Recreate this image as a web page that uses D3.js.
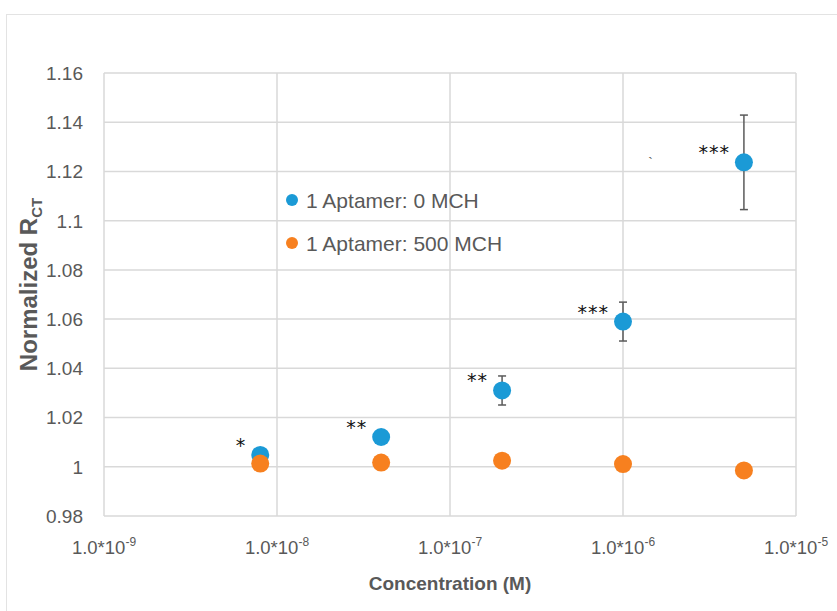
<!DOCTYPE html>
<html>
<head>
<meta charset="utf-8">
<script src="https://cdn.jsdelivr.net/npm/d3@7"></script>
<style>
  body { margin: 0; background: #fff; }
  text { font-family: "Liberation Sans", Arial, sans-serif; }
</style>
</head>
<body>
<script>
// data
const concentrations = [8e-9, 4e-8, 2e-7, 1e-6, 5e-6]
const rctNoMch = [1.0048, 1.0121, 1.0310, 1.0590, 1.1237]
const errNoMch = [0, 0.0022, 0.0059, 0.0079, 0.0192]
const rct500Mch = [1.0013, 1.0017, 1.0025, 1.0011, 0.9985]
const stars = ["*", "**", "**", "***", "***"]
const xTicks = [1e-9, 1e-8, 1e-7, 1e-6, 1e-5]
const yTicks = [0.98, 1, 1.02, 1.04, 1.06, 1.08, 1.1, 1.12, 1.14, 1.16]
const seriesNames = ["1 Aptamer: 0 MCH", "1 Aptamer: 500 MCH"]
const seriesColors = ["#1b9ad6", "#f7801f"]

const width = 837
const height = 611
const margin = { top: 73, right: 41, bottom: 95, left: 104 }

const svg = d3.select("body").append("svg")
    .attr("width", width)
    .attr("height", height)

// chart frame
svg.append("rect")
    .attr("x", 6.5).attr("y", 14.5)
    .attr("width", width).attr("height", height)
    .attr("fill", "none")
    .attr("stroke", "#e3e3e3")

const x = d3.scaleLog()
    .domain([1e-9, 1e-5])
    .range([margin.left, width - margin.right])

const y = d3.scaleLinear()
    .domain([0.98, 1.16])
    .range([height - margin.bottom, margin.top])

// grid
svg.append("g")
    .selectAll("line")
    .data(yTicks)
    .enter().append("line")
    .attr("x1", x(1e-9)).attr("x2", x(1e-5))
    .attr("y1", d => y(d)).attr("y2", d => y(d))
    .style("stroke", "#d9d9d9")
    .style("stroke-width", 1.5)

svg.append("g")
    .selectAll("line")
    .data(xTicks)
    .enter().append("line")
    .attr("x1", d => x(d)).attr("x2", d => x(d))
    .attr("y1", y(0.98)).attr("y2", y(1.16))
    .style("stroke", "#d9d9d9")
    .style("stroke-width", 1.5)

// y tick labels
svg.append("g")
    .selectAll("text")
    .data(yTicks)
    .enter().append("text")
    .attr("x", margin.left - 21)
    .attr("y", d => y(d))
    .attr("dy", "0.36em")
    .attr("text-anchor", "end")
    .style("font-size", "19px")
    .style("fill", "#595959")
    .text(d => d3.format("")(d))

// x tick labels: 1.0*10^n
const xl = svg.append("g")
    .selectAll("text")
    .data(xTicks)
    .enter().append("text")
    .attr("x", d => x(d))
    .attr("y", height - margin.bottom + 38)
    .attr("text-anchor", "middle")
    .style("font-size", "18.5px")
    .style("fill", "#595959")
xl.append("tspan").text("1.0*10")
xl.append("tspan")
    .attr("dy", -8)
    .style("font-size", "12px")
    .text(d => Math.round(Math.log10(d)))

// axis titles
svg.append("text")
    .attr("x", (x(1e-9) + x(1e-5)) / 2)
    .attr("y", 590)
    .attr("text-anchor", "middle")
    .style("font-size", "19px")
    .style("font-weight", "bold")
    .style("fill", "#595959")
    .text("Concentration (M)")

const yt = svg.append("text")
    .attr("transform", "translate(37," + ((y(0.98) + y(1.16)) / 2 - 10) + ") rotate(-90)")
    .attr("text-anchor", "middle")
    .style("font-size", "24px")
    .style("font-weight", "bold")
    .style("fill", "#595959")
yt.append("tspan").text("Normalized R")
yt.append("tspan").attr("dy", 5).style("font-size", "15px").text("CT")

// error bars
const eb = svg.append("g")
    .selectAll("g")
    .data(concentrations.map((c, i) => ({ c, v: rctNoMch[i], e: errNoMch[i] })).filter(d => d.e > 0))
    .enter().append("g")
    .style("stroke", "#5a5a5a")
    .style("stroke-width", 1.5)
eb.append("line")
    .attr("x1", d => x(d.c)).attr("x2", d => x(d.c))
    .attr("y1", d => y(d.v - d.e)).attr("y2", d => y(d.v + d.e))
eb.append("line")
    .attr("x1", d => x(d.c) - 4).attr("x2", d => x(d.c) + 4)
    .attr("y1", d => y(d.v + d.e)).attr("y2", d => y(d.v + d.e))
eb.append("line")
    .attr("x1", d => x(d.c) - 4).attr("x2", d => x(d.c) + 4)
    .attr("y1", d => y(d.v - d.e)).attr("y2", d => y(d.v - d.e))

// points: blue first, orange on top
svg.append("g")
    .selectAll("circle")
    .data(concentrations.map((c, i) => ({ c, v: rctNoMch[i] })))
    .enter().append("circle")
    .attr("cx", d => x(d.c))
    .attr("cy", d => y(d.v))
    .attr("r", 9)
    .style("fill", seriesColors[0])

svg.append("g")
    .selectAll("circle")
    .data(concentrations.map((c, i) => ({ c, v: rct500Mch[i] })))
    .enter().append("circle")
    .attr("cx", d => x(d.c))
    .attr("cy", d => y(d.v))
    .attr("r", 9)
    .style("fill", seriesColors[1])

// significance stars
svg.append("g")
    .selectAll("text")
    .data(concentrations.map((c, i) => ({ c, v: rctNoMch[i], s: stars[i] })))
    .enter().append("text")
    .attr("x", d => x(d.c) - 14)
    .attr("y", d => y(d.v) - 3)
    .attr("text-anchor", "end")
    .style("font-family", "DejaVu Sans")
    .style("font-size", "19px")
    .style("letter-spacing", "1px")
    .style("fill", "#111")
    .text(d => d.s)

// stray tick mark in the original
svg.append("text")
    .attr("x", x(1.4e-6))
    .attr("y", y(1.1215))
    .style("font-size", "14px")
    .style("fill", "#555")
    .text("`")

// legend
const legend = svg.append("g")
    .selectAll("g")
    .data(seriesNames)
    .enter().append("g")
    .attr("transform", (d, i) => "translate(292," + (200 + i * 43) + ")")
legend.append("circle")
    .attr("r", 6)
    .style("fill", (d, i) => seriesColors[i])
legend.append("text")
    .attr("x", 14)
    .attr("dy", "0.36em")
    .style("font-size", "21px")
    .style("fill", "#595959")
    .text(d => d)
</script>
</body>
</html>
